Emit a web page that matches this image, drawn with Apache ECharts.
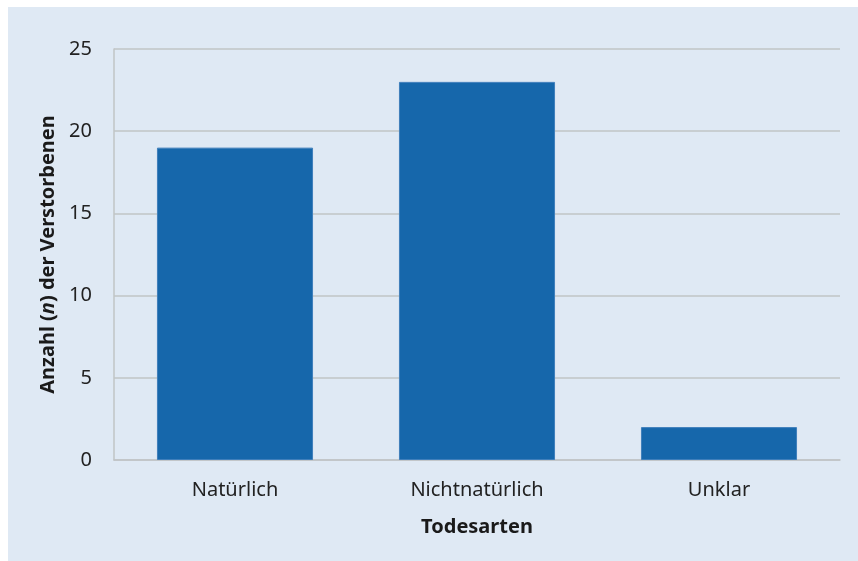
<!DOCTYPE html>
<html lang="de">
<head>
    <meta charset="UTF-8">
    <title>Todesarten</title>
    <script src="https://cdn.jsdelivr.net/npm/echarts@6/dist/echarts.min.js"></script>
    <style>
        html, body { margin: 0; padding: 0; background: #fff; }
        #chart { width: 858px; height: 561px; }
    </style>
</head>
<body>
    <div id="chart"></div>
    <script>
        // Daten
        var categories = ['Natürlich', 'Nichtnatürlich', 'Unklar'];
        var counts = [19, 23, 2];
        var yTicks = [0, 5, 10, 15, 20, 25];

        var myChart = echarts.init(document.getElementById('chart'));
        var font = '"Noto Sans", "Open Sans", sans-serif';

        var option = {
            backgroundColor: '#ffffff',
            animation: false,
            graphic: [{
                type: 'rect',
                z: -10,
                shape: { x: 8, y: 7, width: 850, height: 554 },
                style: { fill: '#dfe9f4' }
            }],
            grid: { left: 114, right: 18, top: 49, bottom: 101 },
            xAxis: {
                type: 'category',
                data: categories,
                name: 'Todesarten',
                nameLocation: 'middle',
                nameGap: 57,
                nameTextStyle: { fontFamily: font, fontSize: 20, fontWeight: 'bold', color: '#1a1a1a' },
                axisLine: { lineStyle: { color: '#c0c4c6', width: 1.5 } },
                axisTick: { show: false },
                axisLabel: { fontFamily: font, fontSize: 20, color: '#222', margin: 20 }
            },
            yAxis: {
                type: 'value',
                min: yTicks[0],
                max: yTicks[yTicks.length - 1],
                interval: 5,
                name: '{b|Anzahl (}{i|n}{b|) der Verstorbenen}',
                nameLocation: 'middle',
                nameGap: 56,
                nameRotate: 90,
                nameTextStyle: {
                    rich: {
                        b: { fontFamily: font, fontSize: 20, fontWeight: 'bold', color: '#1a1a1a' },
                        i: { fontFamily: font, fontSize: 20, fontWeight: 'bold', fontStyle: 'italic', color: '#1a1a1a' }
                    }
                },
                axisLine: { show: true, lineStyle: { color: '#c0c4c6', width: 1.5 } },
                axisTick: { show: false },
                splitLine: { lineStyle: { color: '#c0c4c6', width: 1.5 } },
                axisLabel: { fontFamily: font, fontSize: 20, color: '#222', margin: 22 }
            },
            series: [{
                type: 'bar',
                data: counts,
                barWidth: '64.5%',
                itemStyle: { color: '#1667ab', borderColor: '#3f7fbb', borderWidth: 1 }
            }]
        };

        myChart.setOption(option);
    </script>
</body>
</html>
